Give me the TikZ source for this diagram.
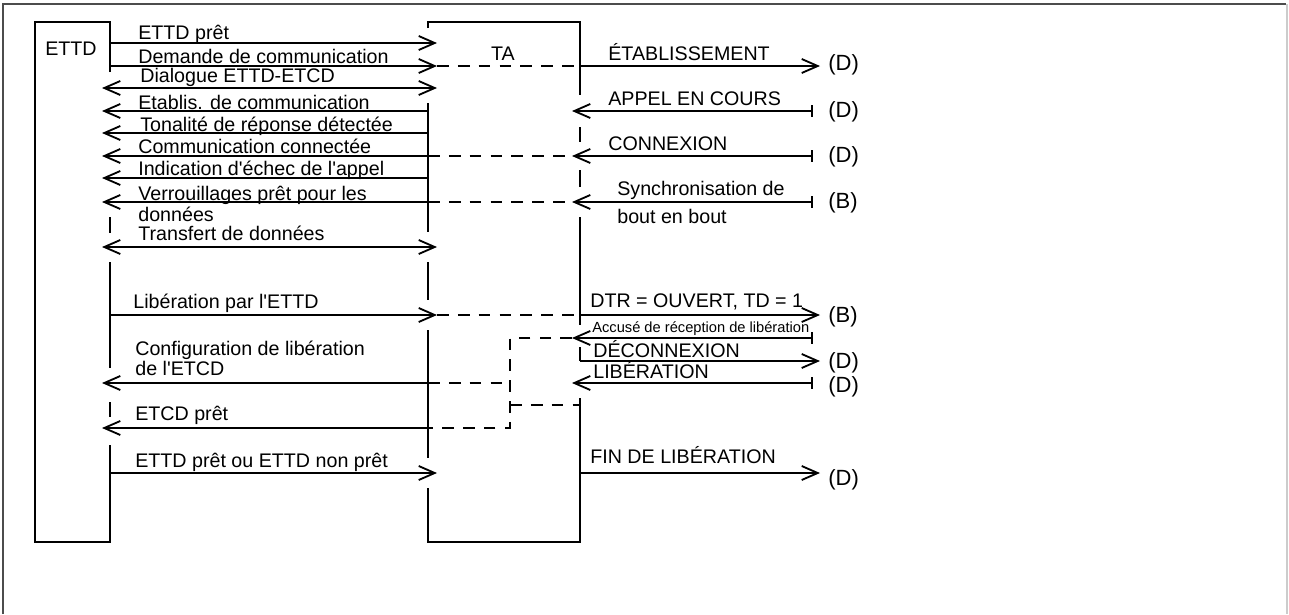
\documentclass[tikz,border=0pt]{standalone}
\usepackage{fontspec}
\setmainfont{Liberation Sans}
\usetikzlibrary{arrows.meta}

\newcommand{\apos}{\textquotesingle}

\tikzset{
  ln/.style={line width=1.1pt},
  msg/.style={ln,-{Straight Barb[length=9.6pt,width=8.4pt]}},
  both/.style={ln,{Straight Barb[length=9.6pt,width=8.4pt]}-{Straight Barb[length=9.6pt,width=8.4pt]}},
  ind/.style={ln,{Bar[width=7pt]}-{Straight Barb[length=9.6pt,width=8.4pt]}},
  dsh/.style={ln,dash pattern=on 7pt off 5.5pt},
  lbl/.style={anchor=base west,inner sep=0pt,font=\fontsize{11.8}{13}\selectfont},
  tag/.style={anchor=west,inner sep=0pt,font=\fontsize{13.2}{14}\selectfont},
}

\begin{document}
\begin{tikzpicture}[x=0.6pt,y=-0.6pt]
  \useasboundingbox (0,0) rectangle (1289,614);
  % outer frame
  \draw[line width=1.5pt,black!70] (3,614) -- (3,4) -- (1286,4);
  \draw[line width=0.8pt,black!20] (1287,4) -- (1287,614);

  % lifelines
  \coordinate (ettd) at (110,0);
  \coordinate (ettdin) at (102,0);
  \coordinate (tal) at (428,0);
  \coordinate (talin) at (437,0);
  \coordinate (tar) at (580,0);
  \coordinate (tarin) at (572,0);
  \coordinate (net) at (820,0);
  \coordinate (netout) at (813,0);
  \coordinate (jog) at (510,0);

  % rows
  \coordinate (r1) at (0,43);
  \coordinate (r2) at (0,66);
  \coordinate (r3) at (0,88);
  \coordinate (r4) at (0,111);
  \coordinate (r5) at (0,133);
  \coordinate (r6) at (0,156);
  \coordinate (r7) at (0,178);
  \coordinate (r8) at (0,202);
  \coordinate (r9) at (0,247);
  \coordinate (r10) at (0,315);
  \coordinate (r11) at (0,338);
  \coordinate (r12) at (0,361);
  \coordinate (r13) at (0,383);
  \coordinate (r14) at (0,405);
  \coordinate (r15) at (0,428);
  \coordinate (r16) at (0,473);

  % boxes
  \draw[ln] (110,72) -- (110,22) -- (35,22) -- (35,542) -- (110,542) -- (110,445);
  \draw[ln] (110,217) -- (110,233) (110,262) -- (110,368) (110,402) -- (110,417);
  \draw[ln] (428,28) -- (428,22) -- (580,22) -- (580,95);
  \draw[ln] (428,103) -- (428,232) (428,262) -- (428,300) (428,330) -- (428,458);
  \draw[ln] (428,488) -- (428,542) -- (580,542) -- (580,398);
  \draw[ln] (580,127) -- (580,142) (580,170) -- (580,187) (580,217) -- (580,325) (580,347) -- (580,361);

  \node[lbl] (ettdname) at (45,55) {ETTD};
  \node[lbl,anchor=base] (taname) at (503,60) {TA};

  % ETTD <-> TA
  \node[lbl] (m1) at (138,39) {ETTD prêt};
  \node[lbl] (m2) at (138,63) {Demande de communication};
  \node[lbl] (m3) at (140,82) {Dialogue ETTD-ETCD};
  \node[lbl] (m4) at (138,109) {Etablis. de communication};
  \node[lbl] (m5) at (140,131) {Tonalité de réponse détectée};
  \node[lbl] (m6) at (138,153) {Communication connectée};
  \node[lbl] (m7) at (138,175) {Indication d\apos échec de l\apos appel};
  \node[lbl] (m8) at (138,200) {Verrouillages prêt pour les};
  \node[lbl] (m8b) at (138,221) {données};
  \node[lbl] (m9) at (138,240) {Transfert de données};
  \node[lbl] (m10) at (133,308) {Libération par l\apos ETTD};
  \node[lbl] (m13) at (135,355) {Configuration de libération};
  \node[lbl] (m13b) at (135,375) {de l\apos ETCD};
  \node[lbl] (m15) at (135,420) {ETCD prêt};
  \node[lbl] (m16) at (135,467) {ETTD prêt ou ETTD non prêt};

  \draw[msg] (ettd |- r1) -- (talin |- r1);
  \draw[msg] (ettd |- r2) -- (talin |- r2);
  \draw[both] (ettdin |- r3) -- (talin |- r3);
  \draw[msg] (tal |- r4) -- (ettdin |- r4);
  \draw[msg] (tal |- r5) -- (ettdin |- r5);
  \draw[msg] (tal |- r6) -- (ettdin |- r6);
  \draw[msg] (tal |- r7) -- (ettdin |- r7);
  \draw[msg] (tal |- r8) -- (ettdin |- r8);
  \draw[both] (ettdin |- r9) -- (talin |- r9);
  \draw[msg] (ettd |- r10) -- (talin |- r10);
  \draw[msg] (tal |- r13) -- (ettdin |- r13);
  \draw[msg] (tal |- r15) -- (ettdin |- r15);
  \draw[msg] (ettd |- r16) -- (talin |- r16);

  % TA <-> network
  \node[lbl] (n2) at (608,60) {ÉTABLISSEMENT};
  \node[lbl] (n4) at (608,105) {APPEL EN COURS};
  \node[lbl] (n6) at (608,150) {CONNEXION};
  \node[lbl] (n8) at (617,195) {Synchronisation de};
  \node[lbl] (n8b) at (617,223) {bout en bout};
  \node[lbl] (n10) at (590,307) {DTR = OUVERT, TD = 1};
  \node[lbl,font=\fontsize{8.8}{10}\selectfont] (n11) at (592,332) {Accusé de réception de libération};
  \node[lbl] (n12) at (593,357) {DÉCONNEXION};
  \node[lbl] (n13) at (593,378) {LIBÉRATION};
  \node[lbl] (n16) at (590,463) {FIN DE LIBÉRATION};

  \node[tag] (d2) at (828,65) {(D)};
  \node[tag] (d4) at (828,112) {(D)};
  \node[tag] (d6) at (828,157) {(D)};
  \node[tag] (b8) at (828,203) {(B)};
  \node[tag] (b10) at (828,317) {(B)};
  \node[tag] (d12) at (828,363) {(D)};
  \node[tag] (d13) at (828,387) {(D)};
  \node[tag] (d16) at (828,480) {(D)};

  \draw[dsh] (talin |- r2) -- (tar |- r2);
  \draw[msg] (tar |- r2) -- (net |- r2);
  \draw[ind] (netout |- r4) -- (tarin |- r4);
  \draw[dsh] (tal |- r6) -- (tarin |- r6);
  \draw[ind] (netout |- r6) -- (tarin |- r6);
  \draw[dsh] (tal |- r8) -- (tarin |- r8);
  \draw[ind] (netout |- r8) -- (tarin |- r8);
  \draw[dsh] (talin |- r10) -- (tar |- r10);
  \draw[msg] (tar |- r10) -- (net |- r10);
  \draw[ind] (netout |- r11) -- (tarin |- r11);
  \draw[dsh] (tarin |- r11) -- (jog |- r11) -- (jog |- r15) -- (tal |- r15);
  \draw[msg] (tar |- r12) -- (net |- r12);
  \draw[dsh] (tal |- r13) -- (jog |- r13);
  \draw[ind] (netout |- r13) -- (tarin |- r13);
  \draw[dsh] (jog |- r14) -- (tar |- r14);
  \draw[msg] (tar |- r16) -- (net |- r16);
\end{tikzpicture}
\end{document}
